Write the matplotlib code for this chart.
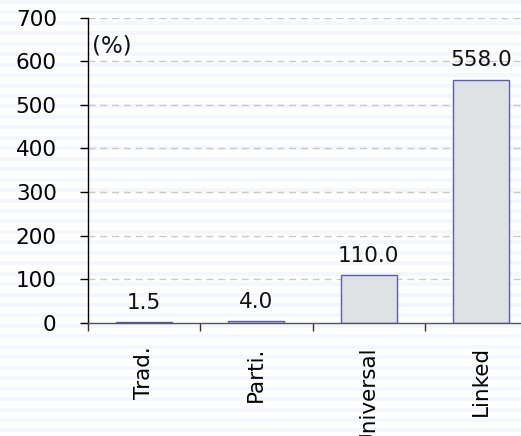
import matplotlib
matplotlib.use("Agg")
import matplotlib.pyplot as plt
from matplotlib.patches import Rectangle
import numpy as np

categories = ["Trad.", "Parti.", "Universal", "Linked"]
values = [1.5, 4.0, 110.0, 558.0]
y_ticks = [0, 100, 200, 300, 400, 500, 600, 700]

W, H, DPI = 521, 436, 100
FS = 15.5
fig = plt.figure(figsize=(W / DPI, H / DPI), dpi=DPI)
fig.patch.set_facecolor("white")

# faint horizontal striped backdrop
period = 10.45
y = H
while y > -period:
    fig.patches.append(Rectangle((0, (y - 4) / H), 1, 4 / H,
                                 transform=fig.transFigure,
                                 facecolor="#f6f6fd", edgecolor="none",
                                 zorder=-10))
    y -= period

left, right = 88 / W, 537 / W
bottom, top = (H - 322.7) / H, (H - 17.7) / H
ax = fig.add_axes([left, bottom, right - left, top - bottom])
ax.set_facecolor("none")
ax.set_zorder(1)

x = np.arange(len(categories)) + 0.5
ax.bar(x, values, width=0.5, color="#dfe2e4", edgecolor="#5c5cba",
       linewidth=1.0, zorder=3)

for xi, v in zip(x, values):
    ax.annotate(f"{v:.1f}", (xi, v), xytext=(0, 9.5), textcoords="offset points",
                ha="center", va="baseline", fontsize=FS, color="#111111",
                zorder=4)

ax.set_xlim(0, len(categories))
ax.set_ylim(0, 700)
ax.set_yticks(y_ticks)

for t in y_ticks[1:]:
    ax.axhline(t, color="#c8c8c8", linewidth=1.0, linestyle=(0, (5, 3.5)),
               zorder=1)

ax.set_xticks(np.arange(len(categories) + 1))
ax.set_xticklabels([""] * (len(categories) + 1))
ax.set_xticks(x, minor=True)
ax.set_xticklabels(categories, minor=True, rotation=90, ha="center", va="top",
                   fontsize=FS)

ax.tick_params(axis="y", direction="out", length=6, width=1, pad=16.5,
               labelsize=FS, color="#000000", labelcolor="#000000")
ax.tick_params(axis="x", which="major", direction="out", length=6, width=1,
               color="#333333")
ax.tick_params(axis="x", which="minor", length=0, pad=17, labelcolor="#000000")

for s in ["top", "right"]:
    ax.spines[s].set_visible(False)
ax.spines["left"].set_color("#000000")
ax.spines["left"].set_linewidth(1.0)
ax.spines["bottom"].set_color("#555555")
ax.spines["bottom"].set_linewidth(1.0)
ax.spines["bottom"].set_zorder(5)

ax.text(0.01, 1.0 - 28 / (322.7 - 17.7), "(%)", transform=ax.transAxes,
        ha="left", va="center", fontsize=16.5, color="#111111")

fig.savefig("out.png", dpi=DPI)
